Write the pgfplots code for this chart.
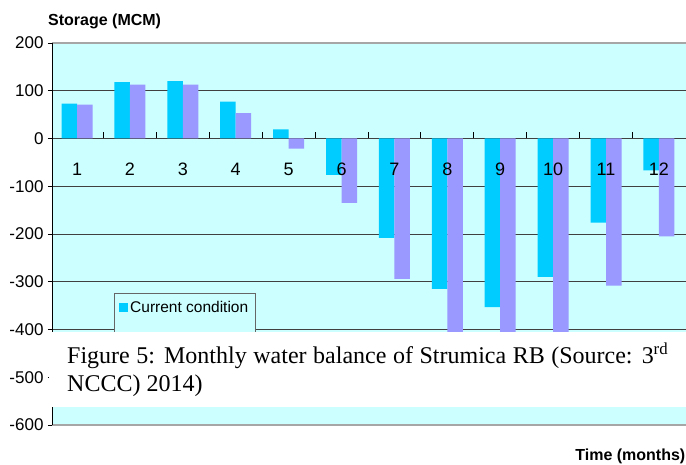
\documentclass[border=0pt]{standalone}
\usepackage{fontspec}
\setmainfont{Liberation Serif}
\newfontfamily\arial{Liberation Sans}
\usepackage{pgfplots}
\pgfplotsset{compat=1.18}
\definecolor{bgc}{RGB}{204,255,255}
\definecolor{cur}{RGB}{0,204,255}
\definecolor{proj}{RGB}{153,153,255}
\begin{document}
\begin{tikzpicture}
\path[use as bounding box] (0,0) rectangle (686pt,465pt);
\begin{axis}[
  at={(52pt,40pt)}, anchor=south west, scale only axis, width=640pt, height=382pt,
  xmin=0.527, xmax=12.625, ymin=-600, ymax=200,
  axis background/.style={fill=bgc},
  ytick={-600,-500,...,200}, yticklabels={-600,-500,-400,-300,-200,-100,0,100,200},
  xtick=\empty, ymajorgrids, grid style={draw=black!75, line width=0.9pt},
  ytick pos=left, tick align=outside, major tick length=4pt,
  tick style={black, line width=0.6pt},
  separate axis lines,
  x axis line style={draw=gray!70, line width=1.5pt},
  y axis line style={black, line width=0.8pt},
  yticklabel style={font=\arial\fontsize{17}{17}\selectfont, xshift=-1pt},
]
\end{axis}
\begin{axis}[
  at={(52pt,40pt)}, anchor=south west, scale only axis, width=640pt, height=382pt,
  xmin=0.527, xmax=12.625, ymin=-600, ymax=200,
  axis x line=middle, axis y line=none, axis on top,
  x axis line style={draw=none},
  ybar=0pt, bar width=15.5pt,
  xtick={1,...,12}, xticklabels={1,2,3,4,5,6,7,8,9,10,11,12}, major tick length=0pt,
  minor xtick={1.5,2.5,...,11.5}, minor tick length=6pt, tick align=center,
  minor tick style={yshift=3pt, black, line width=0.8pt},
  xticklabel style={font=\arial\fontsize{18}{18}\selectfont, anchor=center, yshift=-30.5pt},
  legend style={at={(0.0969,0.3463)}, anchor=north west, draw=black!60, fill=bgc,
    font=\arial\fontsize{15.5}{18}\selectfont, inner xsep=5pt, inner ysep=6pt, row sep=17pt},
  legend image code/.code={\fill[#1] (0pt,-4.5pt) rectangle (9pt,4.5pt);},
]
\addplot[fill=cur, draw=none] coordinates {(1,73) (2,118) (3,120) (4,77) (5,19) (6,-76) (7,-208) (8,-315) (9,-353) (10,-290) (11,-176) (12,-67)};
\addplot[fill=proj, draw=none] coordinates {(1,71) (2,113) (3,113) (4,53) (5,-21) (6,-135) (7,-294) (8,-440) (9,-470) (10,-430) (11,-308) (12,-205)};
\legend{Current condition, Projection 2025}
\end{axis}
\fill[white] (49pt,58pt) rectangle (690pt,133pt);
\node[anchor=base west, inner sep=0pt, font=\fontsize{24}{28}\selectfont] at (67pt,101pt) {\makebox[601pt][s]{Figure 5: Monthly water balance of Strumica RB (Source: 3\textsuperscript{rd}}};
\node[anchor=base west, inner sep=0pt, font=\fontsize{24}{28}\selectfont] at (67pt,73pt) {NCCC) 2014)};
\node[anchor=west, inner sep=0pt, font=\arial\bfseries\fontsize{16}{16}\selectfont] at (48pt,444pt) {Storage (MCM)};
\node[anchor=east, inner sep=0pt, font=\arial\bfseries\fontsize{16}{16}\selectfont] at (685.5pt,8.5pt) {Time (months)};
\end{tikzpicture}
\end{document}
